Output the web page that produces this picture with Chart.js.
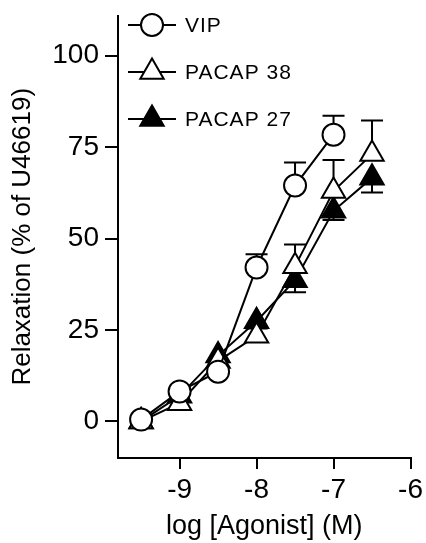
<!DOCTYPE html>
<html>
<head>
<meta charset="utf-8">
<script src="https://cdn.jsdelivr.net/npm/chart.js@4.4.1/dist/chart.umd.min.js"></script>
<style>
  html, body { margin: 0; padding: 0; background: #fff; }
  #wrap { width: 426px; height: 543px; }
</style>
</head>
<body>
<div id="wrap"><canvas id="chart"></canvas></div>
<script>
// log concentrations
const logConc = [-9.5, -9, -8.5, -8, -7.5, -7, -6.5];

// relaxation values (%)
const vipValues = [0.5, 8.2, 13.6, 42.1, 64.5, 78.4];
const pacap38Values = [0, 5, 16.5, 23.4, 42.4, 63, 73.1];
const pacap27Values = [0, 7, 18, 27.4, 38.6, 57.6, 66.6];

// SEM (only one side drawn: up for VIP / PACAP 38, down for PACAP 27)
const vipErr = [0, 0, 0, 3.6, 6.3, 5.2];
const pacap38Err = [0, 0, 0, 0, 6, 8.5, 9.2];
const pacap27Err = [0, 0, 0, 2, 3.3, 2.5, 4];

const xTicks = [-9, -8, -7, -6];
const yTicks = [0, 25, 50, 75, 100];

const FONT = 'Liberation Sans, Arial, Helvetica, sans-serif';

function points(values) {
    return values.map((v, i) => ({ x: logConc[i], y: v }));
}

// draw the error bars beneath the markers
const errorBars = {
    id: 'errorBars',
    beforeDatasetsDraw(chart) {
        const ctx = chart.ctx;
        const xs = chart.scales.x, ys = chart.scales.y;
        ctx.save();
        ctx.strokeStyle = '#000';
        ctx.lineWidth = 2;
        chart.data.datasets.forEach(ds => {
            ds.data.forEach((p, i) => {
                const e = ds.errors[i];
                if (!e) return;
                const px = xs.getPixelForValue(p.x);
                const y0 = ys.getPixelForValue(p.y);
                const y1 = ys.getPixelForValue(p.y + ds.errDir * e);
                ctx.beginPath();
                ctx.moveTo(px, y0);
                ctx.lineTo(px, y1);
                ctx.moveTo(px - 11, y1);
                ctx.lineTo(px + 11, y1);
                ctx.stroke();
            });
        });
        ctx.restore();
    }
};

// legend with a line running through each marker
const lineLegend = {
    id: 'lineLegend',
    afterDraw(chart) {
        const ctx = chart.ctx;
        const rows = [25, 72, 119];
        ctx.save();
        chart.data.datasets.forEach((ds, i) => {
            const y = rows[i];
            ctx.strokeStyle = '#000';
            ctx.lineWidth = 2;
            ctx.beginPath();
            ctx.moveTo(128, y);
            ctx.lineTo(176, y);
            ctx.stroke();
            ctx.fillStyle = ds.pointBackgroundColor;
            Chart.helpers.drawPoint(ctx, {
                pointStyle: ds.pointStyle,
                radius: ds.pointRadius,
                rotation: 0,
                borderWidth: 2
            }, 152, y);
            ctx.fillStyle = '#000';
            ctx.font = '21px ' + FONT;
            ctx.letterSpacing = '1px';
            ctx.textBaseline = 'middle';
            ctx.textAlign = 'left';
            ctx.fillText(ds.label, 185, y + 1);
        });
        ctx.restore();
    }
};

const common = {
    borderColor: '#000',
    borderWidth: 2,
    pointBorderColor: '#000',
    pointBorderWidth: 2,
    showLine: true,
    tension: 0
};

new Chart(document.getElementById('chart'), {
    type: 'scatter',
    data: {
        datasets: [
            Object.assign({
                label: 'VIP',
                data: points(vipValues),
                errors: vipErr,
                errDir: 1,
                pointStyle: 'circle',
                pointRadius: 11,
                pointBackgroundColor: '#fff'
            }, common),
            Object.assign({
                label: 'PACAP 38',
                data: points(pacap38Values),
                errors: pacap38Err,
                errDir: 1,
                pointStyle: 'triangle',
                pointRadius: 13.5,
                pointBackgroundColor: '#fff'
            }, common),
            Object.assign({
                label: 'PACAP 27',
                data: points(pacap27Values),
                errors: pacap27Err,
                errDir: -1,
                pointStyle: 'triangle',
                pointRadius: 13.5,
                pointBackgroundColor: '#000'
            }, common)
        ]
    },
    options: {
        responsive: true,
        maintainAspectRatio: false,
        animation: false,
        layout: { padding: { top: 13, right: 15, left: 0, bottom: 0 } },
        plugins: {
            legend: { display: false },
            tooltip: { enabled: false }
        },
        scales: {
            x: {
                type: 'linear',
                min: -9.8,
                max: -6,
                afterBuildTicks: s => { s.ticks = xTicks.map(v => ({ value: v })); },
                afterFit: s => { s.height = 85; s.paddingLeft = 0; s.paddingRight = 0; },
                grid: { drawOnChartArea: false, color: '#000', lineWidth: 2, tickLength: 11 },
                border: { color: '#000', width: 2 },
                ticks: { color: '#000', font: { family: FONT, size: 28 }, padding: 4, maxRotation: 0 },
                title: {
                    display: true,
                    text: 'log [Agonist] (M)',
                    color: '#000',
                    font: { family: FONT, size: 27 },
                    padding: { top: 0, bottom: 0 }
                }
            },
            y: {
                min: -10,
                max: 111,
                afterBuildTicks: s => { s.ticks = yTicks.map(v => ({ value: v })); },
                afterFit: s => { s.width = 118; s.paddingTop = 0; s.paddingBottom = 0; },
                grid: { drawOnChartArea: false, color: '#000', lineWidth: 2, tickLength: 13 },
                border: { color: '#000', width: 2 },
                ticks: { color: '#000', font: { family: FONT, size: 28 }, padding: 6 },
                title: {
                    display: true,
                    text: 'Relaxation (% of U46619)',
                    color: '#000',
                    font: { family: FONT, size: 26 },
                    padding: { top: 7, bottom: 0 }
                }
            }
        }
    },
    plugins: [errorBars, lineLegend]
});
</script>
</body>
</html>
